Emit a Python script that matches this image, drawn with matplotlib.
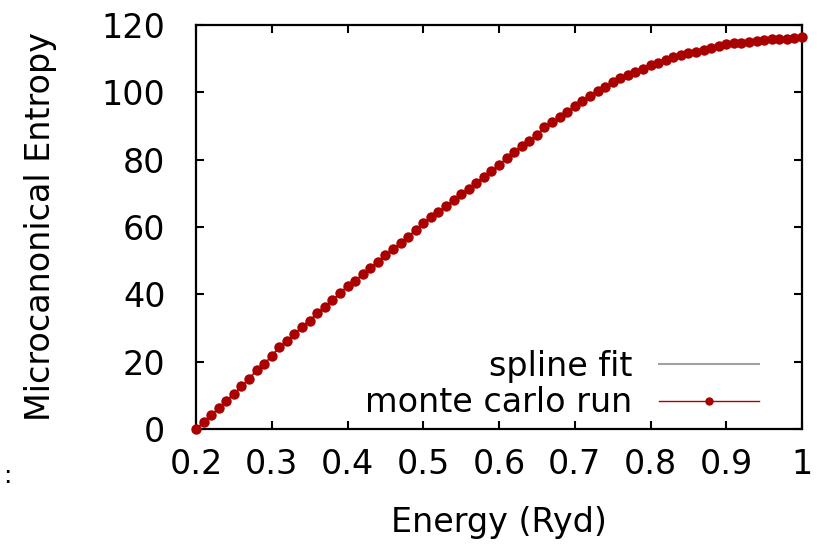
import matplotlib
matplotlib.use("Agg")
import matplotlib.pyplot as plt

# Energy grid (Ryd) and entropy
energy = [0.20, 0.21, 0.22, 0.23, 0.24, 0.25, 0.26, 0.27, 0.28, 0.29,
          0.30, 0.31, 0.32, 0.33, 0.34, 0.35, 0.36, 0.37, 0.38, 0.39,
          0.40, 0.41, 0.42, 0.43, 0.44, 0.45, 0.46, 0.47, 0.48, 0.49,
          0.50, 0.51, 0.52, 0.53, 0.54, 0.55, 0.56, 0.57, 0.58, 0.59,
          0.60, 0.61, 0.62, 0.63, 0.64, 0.65, 0.66, 0.67, 0.68, 0.69,
          0.70, 0.71, 0.72, 0.73, 0.74, 0.75, 0.76, 0.77, 0.78, 0.79,
          0.80, 0.81, 0.82, 0.83, 0.84, 0.85, 0.86, 0.87, 0.88, 0.89,
          0.90, 0.91, 0.92, 0.93, 0.94, 0.95, 0.96, 0.97, 0.98, 0.99,
          1.00]
entropy = [0.0, 2.0, 4.1, 6.2, 8.4, 10.4, 12.7, 14.9, 17.4, 19.3,
           21.7, 24.3, 26.1, 28.2, 30.4, 32.2, 34.4, 36.3, 38.3, 40.3,
           42.5, 44.0, 45.9, 47.8, 49.7, 51.7, 53.4, 55.3, 57.1, 59.1,
           61.1, 62.9, 64.5, 66.2, 68.0, 69.8, 71.4, 73.2, 74.9, 76.6,
           78.4, 80.4, 82.2, 84.1, 85.6, 87.3, 89.6, 91.2, 92.6, 94.3,
           95.9, 97.5, 98.9, 100.5, 101.7, 103.1, 104.2, 105.1, 106.0, 106.8,
           108.0, 108.8, 109.6, 110.4, 111.0, 111.8, 112.1, 112.6, 113.2, 113.7,
           114.3, 114.6, 114.7, 115.0, 115.3, 115.5, 115.7, 115.7, 115.9, 116.1,
           116.3]

x_ticks = [0.2, 0.3, 0.4, 0.5, 0.6, 0.7, 0.8, 0.9, 1.0]
x_labels = ["0.2", "0.3", "0.4", "0.5", "0.6", "0.7", "0.8", "0.9", "1"]
y_ticks = [0, 20, 40, 60, 80, 100, 120]

plt.rcParams['font.family'] = ['DejaVu Sans']

fig = plt.figure(figsize=(8.17, 5.49), dpi=100)
ax = fig.add_axes([0.2399, 0.2186, 0.7418, 0.7359])

ax.plot(energy, entropy, color='#a0a0a0', linewidth=1.5, label='spline fit', zorder=2)
ax.plot(energy, entropy, color='#aa0000', linewidth=1.0, marker='o', markersize=7.5,
        markeredgewidth=0, label='monte carlo run', zorder=3, clip_on=False)

ax.set_xlim(0.2, 1.0)
ax.set_ylim(0, 120)
ax.set_xticks(x_ticks)
ax.set_xticklabels(x_labels)
ax.set_yticks(y_ticks)
ax.tick_params(direction='in', length=6, width=1.5, labelsize=24,
               top=True, right=True, pad=14)
ax.tick_params(axis='y', pad=22)
for s in ax.spines.values():
    s.set_linewidth(1.6)

ax.set_xlabel('Energy (Ryd)', fontsize=24, labelpad=18)
ax.set_ylabel('Microcanonical Entropy', fontsize=24, labelpad=32)

leg = ax.legend(loc='lower right', frameon=False, fontsize=24, markerfirst=False,
                handlelength=3.0, handletextpad=0.8, labelspacing=0.1,
                bbox_to_anchor=(0.978, -0.05))
leg.legend_handles[1].set_markersize(6)

fig.text(0.004, 0.12, ':', fontsize=18)

fig.savefig('out.png', dpi=100)
